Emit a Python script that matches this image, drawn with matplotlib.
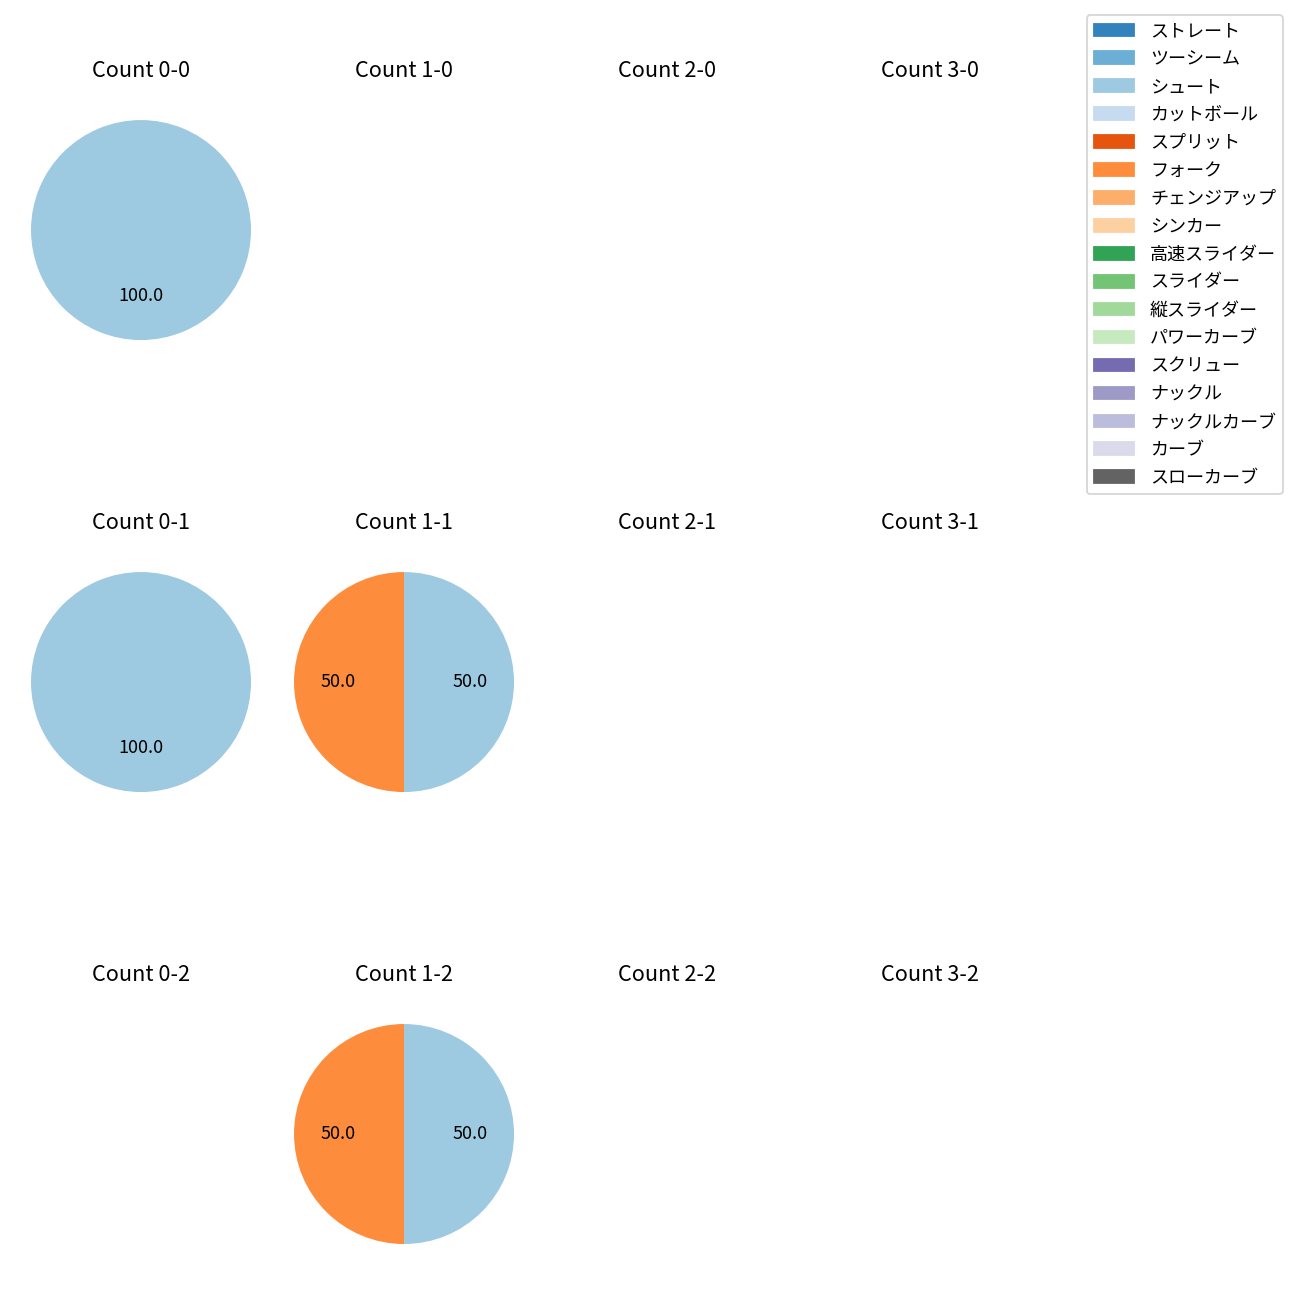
import matplotlib
matplotlib.use("Agg")
import matplotlib.pyplot as plt
import numpy as np
from matplotlib.patches import Patch

plt.rcParams['font.family'] = ['Noto Sans CJK JP', 'DejaVu Sans']

pitch_types = ["ストレート", "ツーシーム", "シュート", "カットボール", "スプリット", "フォーク",
               "チェンジアップ", "シンカー", "高速スライダー", "スライダー", "縦スライダー",
               "パワーカーブ", "スクリュー", "ナックル", "ナックルカーブ", "カーブ", "スローカーブ"]

# counts per (balls, strikes): pitch type -> number
count_data = {
    (0, 0): {"シュート": 1},
    (0, 1): {"シュート": 1},
    (1, 1): {"シュート": 1, "フォーク": 1},
    (1, 2): {"シュート": 1, "フォーク": 1},
}

colors = plt.get_cmap('tab20c').colors
color_map = {p: colors[i] for i, p in enumerate(pitch_types)}

fig, axes = plt.subplots(3, 4, figsize=(10, 10), dpi=130)
fig.subplots_adjust(left=0.0027, right=0.8212, top=0.9288, bottom=0.0219,
                    wspace=-0.0436, hspace=0.6436)

for s in range(3):
    for b in range(4):
        ax = axes[s][b]
        ax.set_title(f"Count {b}-{s}", pad=8.5)
        d = count_data.get((b, s))
        if d:
            labels = [p for p in pitch_types if d.get(p, 0) > 0]
            vals = [d[p] for p in labels]
            ax.pie(vals, colors=[color_map[p] for p in labels], autopct='%1.1f',
                   startangle=90, counterclock=False)
        ax.axis('off')

handles = [Patch(color=color_map[p], label=p) for p in pitch_types]
fig.legend(handles=handles, loc='upper right', bbox_to_anchor=(0.987, 0.9885),
           borderaxespad=0, labelspacing=0.55, handlelength=2.2, handletextpad=0.9)

fig.savefig("out.png")
